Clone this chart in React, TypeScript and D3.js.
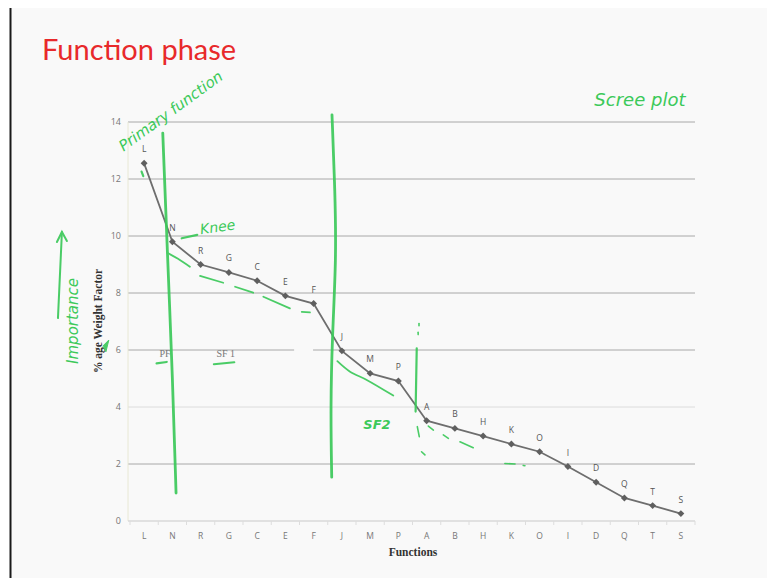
import React from "react";
import * as d3 from "d3";

const categories = ["L","N","R","G","C","E","F","J","M","P","A","B","H","K","O","I","D","Q","T","S"];
const weights = [12.55,9.8,9.0,8.72,8.43,7.9,7.63,5.97,5.18,4.91,3.52,3.25,2.98,2.7,2.43,1.91,1.36,0.81,0.54,0.26];
const yTicks = [0,2,4,6,8,10,12,14];

// chart text boxes (index, value)
const boxLabels: [string, number, number][] = [["PF",0.74,5.88],["SF 1",2.89,5.88]];
const gridGap: [number, number] = [5.31, 5.98];

// hand-drawn annotations in data space [index, value]
const cut1: [number, number][] = [[0.66,13.61],[0.82,9.5],[1.01,4.95],[1.13,0.98]];
const cut2: [number, number][] = [[6.65,14.25],[6.76,11.5],[6.8,9.2],[6.66,6.5],[6.6,4.0],[6.64,1.54]];
const cut3: [number, number][] = [[9.65,6.06],[9.61,3.84]];
const cut3Dots: [number, number][][] = [[[9.73,6.93],[9.73,6.85]],[[9.70,6.62],[9.70,6.54]],[[9.67,3.31],[9.74,2.96]],[[9.82,2.43],[9.94,2.32]]];
const dashKnee: [number, number][][] = [
  [[0.82,9.41],[1.2,9.2],[1.62,8.92]],
  [[1.98,8.60],[2.80,8.36]],
  [[3.22,8.22],[3.86,8.01]],
  [[4.22,7.87],[5.16,7.46]],
  [[5.58,7.34],[5.87,7.32]],
];
const curveSF2: [number, number][] = [[6.84,5.61],[7.29,5.24],[7.88,4.95],[8.82,4.40]];
const dashTail: [number, number][][] = [
  [[10.06,3.33],[10.24,3.19]],
  [[10.59,3.02],[10.77,2.90]],
  [[11.18,2.78],[11.65,2.57]],
  [[12.77,2.02],[13.13,2.0]],
  [[13.42,1.95],[13.48,1.94]],
];
const smallMarks: [number, number][][] = [
  [[-0.09,12.26],[-0.03,12.1]],
  [[1.33,9.92],[1.88,10.04]],
  [[0.44,5.53],[0.80,5.58]],
  [[2.47,5.50],[3.19,5.57]],
];
const importanceArrow: [number, number][] = [[-3.05,7.12],[-2.91,10.14]];
const notes: { text: string; i: number; v: number; rot: number; size: number; weight?: number }[] = [
  { text: "Primary function", i: 0.94, v: 14.39, rot: -36, size: 15 },
  { text: "Scree plot", i: 17.55, v: 14.77, rot: 0, size: 18 },
  { text: "Knee", i: 2.6, v: 10.32, rot: -8, size: 14 },
  { text: "SF2", i: 8.24, v: 3.38, rot: 0, size: 13, weight: 700 },
  { text: "Importance", i: -2.51, v: 7.02, rot: -90, size: 15 },
];

const GREEN = "#3cc95a";

export default function App() {
  const x = d3.scalePoint<string>().domain(categories).range([130, 695]).padding(0.5);
  const step = x.step();
  const fx = (i: number) => (x(categories[0]) as number) + i * step;
  const y = d3.scaleLinear().domain([0, 14]).range([521, 122]);
  const data = categories.map((c, k) => ({ c, v: weights[k] }));
  const line = d3.line<{ c: string; v: number }>().x(d => x(d.c) as number).y(d => y(d.v));
  const ann = d3.line<[number, number]>().x(d => fx(d[0])).y(d => y(d[1])).curve(d3.curveCatmullRom);
  const smooth = d3.line<[number, number]>().x(d => fx(d[0])).y(d => y(d[1])).curve(d3.curveBasis);
  const straight = d3.line<[number, number]>().x(d => fx(d[0])).y(d => y(d[1]));
  const marker = d3.symbol(d3.symbolSquare, 24)() as string;
  const left = 128, right = 695;
  const a1 = importanceArrow[1];
  const ax = fx(a1[0]), ay = y(a1[1]);

  return (
    <svg width={767} height={578} style={{ position: "absolute", left: 0, top: 0 }}>
      <rect x={0} y={0} width={767} height={578} fill="#ffffff" />
      <rect x={11} y={8} width={756} height={570} fill="#f9f9f9" />
      <line x1={10.5} x2={10.5} y1={8} y2={578} stroke="#1a1a1a" strokeWidth={2} />
      <text x={42} y={60} fontFamily="Lato, 'Open Sans', sans-serif" fontSize={29} fill="#e8292b">Function phase</text>

      {/* gridlines */}
      {yTicks.filter(t => t > 0).map(t => {
        const col = t === 4 ? "#dcdcdc" : "#a8a8a8";
        if (t === 6) {
          return (
            <g key={t}>
              <line x1={left} x2={fx(gridGap[0])} y1={y(t)} y2={y(t)} stroke={col} />
              <line x1={fx(gridGap[1])} x2={right} y1={y(t)} y2={y(t)} stroke={col} />
            </g>
          );
        }
        return <line key={t} x1={left} x2={right} y1={y(t)} y2={y(t)} stroke={col} />;
      })}
      <line x1={left} x2={left} y1={y(14)} y2={y(0)} stroke="#e8e8d4" />
      <line x1={left} x2={right} y1={y(0)} y2={y(0)} stroke="#d8d8d8" strokeWidth={1.5} />
      {d3.range(categories.length + 1).map(k => (
        <line key={k} x1={fx(k - 0.5)} x2={fx(k - 0.5)} y1={y(0)} y2={y(0) + 4} stroke="#dddddd" />
      ))}
      {yTicks.map(t => (
        <text key={t} x={121} y={y(t)} dy="0.35em" textAnchor="end" fontFamily="'Open Sans', sans-serif" fontSize={9} fill="#777">{t}</text>
      ))}
      {categories.map(c => (
        <text key={c} x={x(c)} y={539} textAnchor="middle" fontFamily="'Open Sans', sans-serif" fontSize={8.5} fill="#777">{c}</text>
      ))}
      <text x={413} y={556} textAnchor="middle" fontFamily="'Liberation Serif', serif" fontWeight={700} fontSize={11.5} fill="#333">Functions</text>
      <text transform={`translate(102,321) rotate(-90)`} textAnchor="middle" fontFamily="'Liberation Serif', serif" fontWeight={700} fontSize={11.5} fill="#333">% age Weight Factor</text>
      {boxLabels.map(([t, i, v]) => (
        <text key={t} x={fx(i)} y={y(v)} dy="0.35em" textAnchor="middle" fontFamily="'Liberation Serif', serif" fontSize={10} fill="#777">{t}</text>
      ))}

      {/* series */}
      <path d={line(data) as string} fill="none" stroke="#6e6e6e" strokeWidth={1.8} />
      {data.map(d => (
        <path key={d.c} d={marker} transform={`translate(${x(d.c)},${y(d.v)}) rotate(45)`} fill="#5f5f5f" />
      ))}
      {data.map(d => (
        <text key={"l" + d.c} x={x(d.c)} y={y(d.v) - 11} textAnchor="middle" fontFamily="'Open Sans', sans-serif" fontSize={8.5} fill="#555">{d.c}</text>
      ))}

      {/* annotations */}
      <g stroke={GREEN} fill="none" strokeLinecap="round" opacity={0.92}>
        <path d={smooth(cut1) as string} strokeWidth={2.8} />
        <path d={smooth(cut2) as string} strokeWidth={2.8} />
        <path d={straight(cut3) as string} strokeWidth={2.2} />
        {cut3Dots.map((s, k) => <path key={"c3" + k} d={straight(s) as string} strokeWidth={1.6} />)}
        {dashKnee.map((s, k) => <path key={"dk" + k} d={ann(s) as string} strokeWidth={1.8} />)}
        <path d={ann(curveSF2) as string} strokeWidth={1.8} />
        {dashTail.map((s, k) => <path key={"dt" + k} d={straight(s) as string} strokeWidth={1.6} />)}
        {smallMarks.map((s, k) => <path key={"sm" + k} d={straight(s) as string} strokeWidth={2.2} />)}
        <path d={straight(importanceArrow) as string} strokeWidth={2} />
        <path d={`M${ax - 5},${ay + 10}L${ax},${ay}L${ax + 5},${ay + 9}`} strokeWidth={2} />
        <path d={`M${fx(-1.45)},${y(6.15)}L${fx(-1.25)},${y(6.35)}L${fx(-1.35)},${y(5.95)}Z`} fill={GREEN} strokeWidth={1} />
      </g>
      {notes.map(n => (
        <text key={n.text} transform={`translate(${fx(n.i)},${y(n.v)}) rotate(${n.rot})`} textAnchor="middle" dy="0.35em"
          fontFamily="'DejaVu Sans', sans-serif" fontStyle="italic" fontWeight={n.weight || 400} fontSize={n.size} fill={GREEN}>{n.text}</text>
      ))}
    </svg>
  );
}
